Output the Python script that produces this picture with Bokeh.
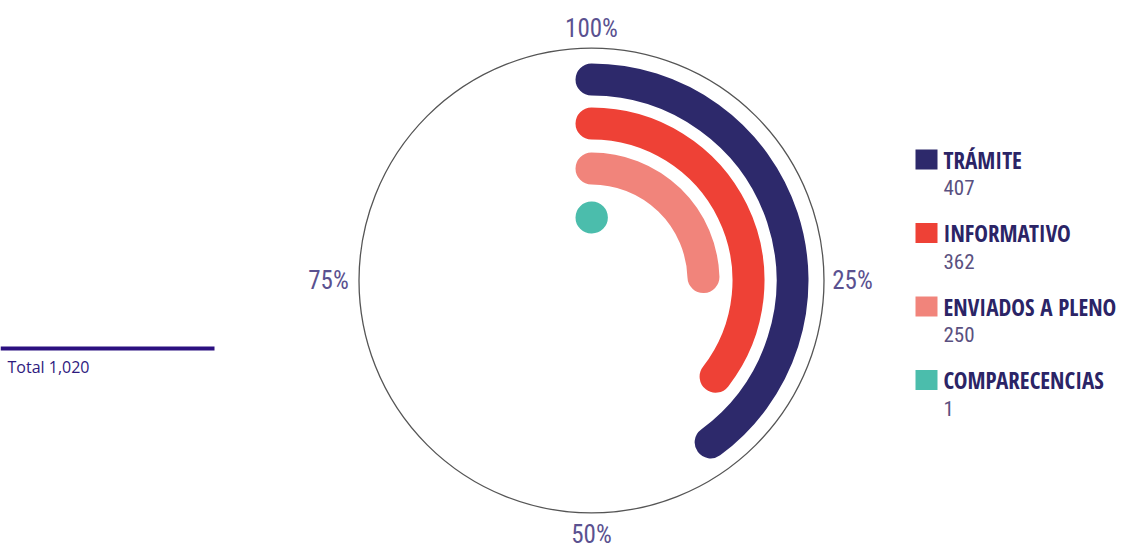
import math
from bokeh.plotting import figure
from bokeh.models import Range1d
from bokeh.core.properties import value
from bokeh.embed import file_html
from bokeh.resources import INLINE

# ---- data ----
categories = ["TRÁMITE", "INFORMATIVO", "ENVIADOS A PLENO", "COMPARECENCIAS"]
counts = [407, 362, 250, 1]
colors = ["#2d296b", "#ee4136", "#f1847b", "#4bbdac"]
total = 1020
tick_fracs = [0.0, 0.25, 0.5, 0.75]
tick_labels = ["100%", "25%", "50%", "75%"]

# ---- layout constants ----
W, H = 1124, 548
CX, CY = 591, 280           # circle center in page pixels
ring_radii = [201, 157, 112, 63]
ring_width = 32
outer_r = 232.5
label_r = [252, 261, 254, 263]

BOLD_COND = "Open Sans Condensed"
REG_COND = "Roboto Condensed"

p = figure(width=W, height=H, output_backend="svg", toolbar_location=None,
           x_range=Range1d(-CX, W - CX), y_range=Range1d(CY - H, CY),
           x_axis_location=None, y_axis_location=None, min_border=0)
p.grid.visible = False
p.outline_line_color = None
p.background_fill_color = "white"
p.border_fill_color = "white"

# outer circle
p.circle(x=[0], y=[0], radius=outer_r, fill_color=None, line_color="#555555", line_width=1.3)

# arcs
for cat, c, col, r in zip(categories, counts, colors, ring_radii):
    frac = c / total
    start = math.pi / 2
    end = start - frac * 2 * math.pi
    p.arc(x=[0], y=[0], radius=r, start_angle=start, end_angle=end, direction="clock",
          line_color=col, line_width=ring_width, line_cap="round")

# percentage labels
tx = [lr * math.sin(f * 2 * math.pi) for f, lr in zip(tick_fracs, label_r)]
ty = [lr * math.cos(f * 2 * math.pi) for f, lr in zip(tick_fracs, label_r)]
p.text(x=tx, y=ty, text=tick_labels, text_align="center", text_baseline="middle",
       text_font=value(REG_COND), text_font_size="25px", text_color="#5a5190")

# legend
step = 73.5
for i, (cat, c, col) in enumerate(zip(categories, counts, colors)):
    top = 149 + i * step
    p.rect(x=[915 + 11 - CX], y=[CY - (top + 10)], width=22, height=20,
           fill_color=col, line_color=None)
    base1 = 159 + i * step
    base2 = 187 + i * step
    p.text(x=[943 - CX], y=[CY - base1], text=[cat], text_font=value(BOLD_COND),
           text_font_size="23px", text_font_style="bold", text_color="#2b2466",
           text_baseline="alphabetic", text_align="left")
    p.text(x=[943 - CX], y=[CY - base2], text=[f"{c:,}"], text_font=value(REG_COND),
           text_font_size="21px", text_color="#5a5080",
           text_baseline="alphabetic", text_align="left")

# total annotation
p.segment(x0=[0 - CX], y0=[CY - 348], x1=[214 - CX], y1=[CY - 348],
          line_color="#2b1080", line_width=4)
p.text(x=[7 - CX], y=[CY - 366], text=[f"Total {total:,}"], text_font=value("Open Sans"),
       text_font_size="16px", text_color="#2e1a7e", text_baseline="alphabetic",
       text_align="left")

open("out.html", "w").write(file_html(p, INLINE))
